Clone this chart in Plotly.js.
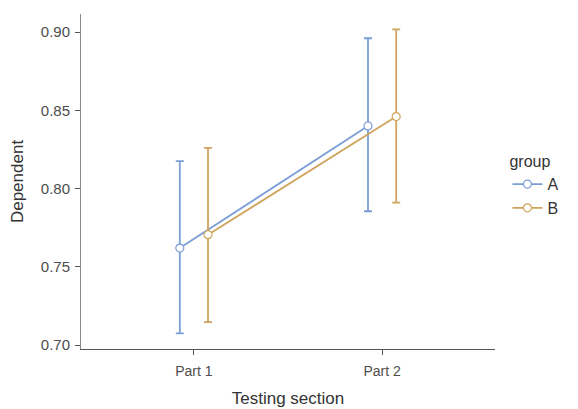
<!DOCTYPE html>
<html>
<head>
<meta charset="utf-8">
<script src="https://cdn.plot.ly/plotly-3.0.1.min.js"></script>
<style>html,body{margin:0;padding:0;background:#fff;}#chart{width:578px;height:409px;}</style>
</head>
<body>
<div id="chart"></div>
<script>
const categories = ["Part 1", "Part 2"];
const groups = ["A", "B"];
const meanA = [0.762, 0.840];
const upperA = [0.8175, 0.896];
const lowerA = [0.7075, 0.7855];
const meanB = [0.7705, 0.846];
const upperB = [0.826, 0.9017];
const lowerB = [0.7147, 0.791];
const colors = ["#7b9ed6", "#cfa45c"];
const dodge = [-0.075, 0.075];

const means = [meanA, meanB];
const uppers = [upperA, upperB];
const lowers = [lowerA, lowerB];

const traces = groups.map((g, gi) => ({
  type: "scatter",
  mode: "lines+markers",
  name: g,
  x: categories.map((c, i) => i + 1 + dodge[gi]),
  y: means[gi],
  line: {color: colors[gi], width: 1.8},
  marker: {symbol: "circle", size: 8, color: "#ffffff", line: {color: colors[gi], width: 1.2}},
  error_y: {
    type: "data", symmetric: false,
    array: means[gi].map((m, i) => uppers[gi][i] - m),
    arrayminus: means[gi].map((m, i) => m - lowers[gi][i]),
    color: colors[gi], thickness: 1.8, width: 4
  },
  cliponaxis: false
}));

const layout = {
  width: 578, height: 409,
  margin: {l: 81, r: 83, t: 14, b: 60},
  paper_bgcolor: "#ffffff", plot_bgcolor: "#ffffff",
  font: {family: "Liberation Sans, Arial, sans-serif", color: "#4d4d4d"},
  showlegend: true,
  legend: {
    x: 1.03, xanchor: "left", y: 0.605, yanchor: "top",
    title: {text: "group", font: {size: 16, color: "#333333"}},
    font: {size: 16, color: "#333333"},
    tracegroupgap: 0, itemwidth: 30
  },
  xaxis: {
    range: [0.4, 2.6],
    tickmode: "array", tickvals: [1, 2], ticktext: categories,
    showgrid: false, zeroline: false,
    showline: true, linecolor: "#555555", linewidth: 1,
    ticks: "outside", ticklen: 5, tickcolor: "#555555",
    ticklabelstandoff: 4,
    tickfont: {size: 14, color: "#4d4d4d"},
    title: {text: "Testing section", font: {size: 17, color: "#333333"}, standoff: 14}
  },
  yaxis: {
    range: [0.6975, 0.9115],
    tickvals: [0.70, 0.75, 0.80, 0.85, 0.90],
    tickformat: ".2f",
    showgrid: false, zeroline: false,
    showline: true, linecolor: "#8a8a8a", linewidth: 1,
    ticks: "outside", ticklen: 5, tickcolor: "#555555",
    ticklabelstandoff: 2,
    tickfont: {size: 15, color: "#4d4d4d"},
    title: {text: "Dependent", font: {size: 17, color: "#333333"}, standoff: 12}
  }
};

Plotly.newPlot("chart", traces, layout, {displayModeBar: false, staticPlot: true});
</script>
</body>
</html>
